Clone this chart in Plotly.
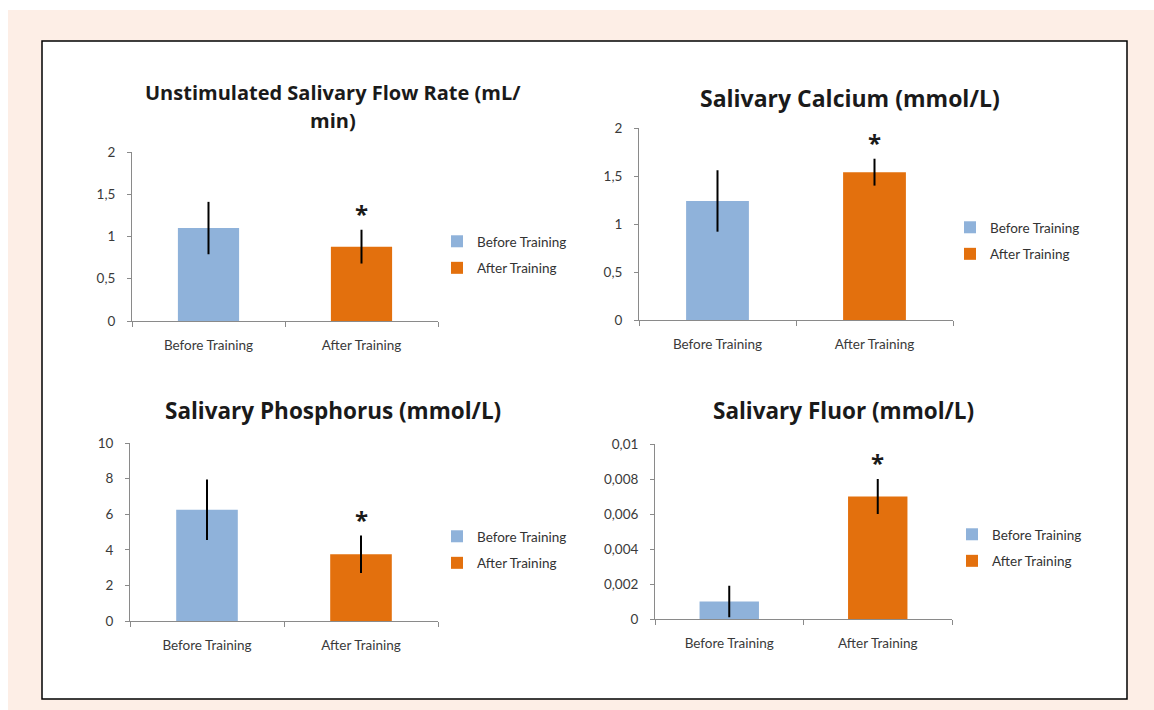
import plotly.graph_objects as go
from plotly.subplots import make_subplots

W, H = 1154, 710

categories = ["Before Training", "After Training"]
series_names = ["Before Training", "After Training"]

flow_mean = [1.10, 0.88]
flow_err = [0.31, 0.20]
calcium_mean = [1.24, 1.54]
calcium_err = [0.32, 0.14]
phosphorus_mean = [6.25, 3.75]
phosphorus_err = [1.70, 1.05]
fluor_mean = [0.001, 0.007]
fluor_err = [0.0009, 0.001]

titles = [
    ["Unstimulated Salivary Flow Rate (mL/", "min)"],
    ["Salivary Calcium (mmol/L)"],
    ["Salivary Phosphorus (mmol/L)"],
    ["Salivary Fluor (mmol/L)"],
]
y_ranges = [(0, 2), (0, 2), (0, 10), (0, 0.01)]
y_dticks = [0.5, 0.5, 2, 0.002]
significant = [1, 1, 1, 1]  # index of the bar marked with an asterisk

panels = [
    (flow_mean, flow_err),
    (calcium_mean, calcium_err),
    (phosphorus_mean, phosphorus_err),
    (fluor_mean, fluor_err),
]

BLUE = "#8FB2DA"
ORANGE = "#E3700D"
colors = [BLUE, ORANGE]
FONT = "Lato, 'Open Sans', sans-serif"
TITLE_FONT = "'Open Sans', Lato, sans-serif"
TICK_COLOR = "#3a3a3a"
AXIS_COLOR = "#8a8a8a"


def px_x(p):
    return p / W


def px_y(p):
    return 1 - p / H


# plot areas in pixels: (left, right, top, bottom)
areas = [
    (132, 438, 152, 321),
    (639, 953, 128, 320),
    (130, 438, 443, 621),
    (655, 952, 444, 619),
]
# legend placement: (left px, middle px)
legend_pos = [(437, 255), (950, 241), (437, 550), (952, 548)]
# title placement: (center x px, [line centers y px], font size)
title_pos = [
    (333, [92, 120], 20),
    (850, [98], 23),
    (333, [410], 22.5),
    (843, [410], 22.5),
]

fig = make_subplots(rows=2, cols=2)

for i, (mean, err) in enumerate(panels):
    r, c = divmod(i, 2)
    legend_name = "legend" if i == 0 else f"legend{i + 1}"
    for j in range(2):
        fig.add_trace(
            go.Bar(
                x=[categories[j]],
                y=[mean[j]],
                name=series_names[j],
                marker=dict(color=colors[j], line=dict(width=0)),
                width=0.4,
                error_y=dict(type="data", array=[err[j]], color="black",
                             thickness=2, width=0, visible=True),
                legend=legend_name,
                legendgroup=f"g{i}_{j}",
                showlegend=True,
            ),
            row=r + 1, col=c + 1,
        )

    xa = "xaxis" if i == 0 else f"xaxis{i + 1}"
    ya = "yaxis" if i == 0 else f"yaxis{i + 1}"
    left, right, top, bottom = areas[i]
    fig.layout[xa].update(
        domain=[px_x(left), px_x(right)],
        type="category",
        categoryorder="array",
        categoryarray=categories,
        tickson="boundaries",
        ticks="outside",
        ticklen=5,
        tickcolor=AXIS_COLOR,
        showline=True,
        linecolor=AXIS_COLOR,
        linewidth=1,
        showgrid=False,
        zeroline=False,
        ticklabelstandoff=12,
        tickfont=dict(family=FONT, size=13.5, color=TICK_COLOR),
        fixedrange=True,
        automargin=False,
    )
    fig.layout[ya].update(
        domain=[px_y(bottom), px_y(top)],
        range=list(y_ranges[i]),
        dtick=y_dticks[i],
        tick0=0,
        ticks="outside",
        ticklen=4,
        tickcolor=AXIS_COLOR,
        showline=True,
        linecolor=AXIS_COLOR,
        linewidth=1,
        showgrid=False,
        zeroline=False,
        ticklabelstandoff=9,
        tickfont=dict(family=FONT, size=13.5, color=TICK_COLOR),
        fixedrange=True,
        automargin=False,
    )

    lx, ly = legend_pos[i]
    fig.layout[legend_name] = dict(
        x=px_x(lx), y=px_y(ly), xanchor="left", yanchor="middle",
        xref="paper", yref="paper",
        bgcolor="rgba(0,0,0,0)",
        font=dict(family=FONT, size=13.5, color="#333333"),
        traceorder="grouped",
        tracegroupgap=6,
        itemwidth=30,
    )

    # significance marker above the error bar
    k = significant[i]
    xref = "x" if i == 0 else f"x{i + 1}"
    yref = "y" if i == 0 else f"y{i + 1}"
    fig.add_annotation(
        x=categories[k], y=mean[k] + err[k], xref=xref, yref=yref,
        text="<b>*</b>", showarrow=False, yanchor="bottom", yshift=-2,
        font=dict(family=TITLE_FONT, size=24, color="#1a1a1a"),
    )

    # panel title
    cx, ys, fs = title_pos[i]
    for line, yy in zip(titles[i], ys):
        fig.add_annotation(
            x=px_x(cx), y=px_y(yy), xref="paper", yref="paper",
            text=f"<b>{line}</b>", showarrow=False,
            xanchor="center", yanchor="middle",
            font=dict(family=TITLE_FONT, size=fs, color="#1a1a1a"),
        )

# page background, white inner panel with black frame
fig.add_shape(type="rect", xref="paper", yref="paper",
              x0=px_x(8), x1=1, y0=0, y1=px_y(10),
              fillcolor="#FDEEE6", line=dict(width=0), layer="below")
fig.add_shape(type="rect", xref="paper", yref="paper",
              x0=px_x(42), x1=px_x(1127), y0=px_y(699), y1=px_y(41),
              fillcolor="white", line=dict(color="black", width=1.5),
              layer="below")

fig.update_layout(
    width=W, height=H,
    margin=dict(l=0, r=0, t=0, b=0, pad=0, autoexpand=False),
    paper_bgcolor="white",
    plot_bgcolor="rgba(0,0,0,0)",
    barmode="overlay",
    separators=",.",
    font=dict(family=FONT),
)

fig.write_html("out.html", config={"displayModeBar": False})
